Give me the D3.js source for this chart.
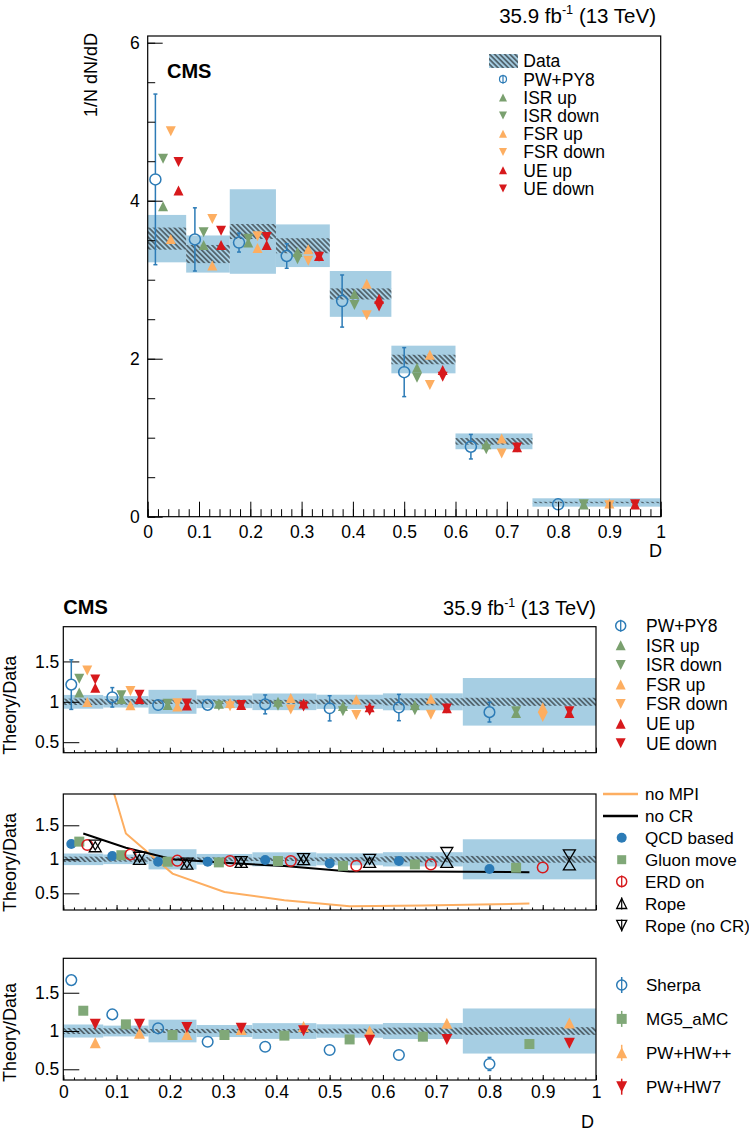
<!DOCTYPE html>
<html><head><meta charset="utf-8">
<script src="https://cdn.jsdelivr.net/npm/d3@7"></script>
<style>
body{margin:0;background:#fff}
svg{display:block}
text{font-family:"Liberation Sans",Arial,Helvetica,sans-serif;fill:#000}
</style>
</head><body>
<svg id="c" width="749" height="1137"></svg>
<script>
// ---------------- data ----------------
const binEdges = [0, 0.075, 0.16, 0.25, 0.355, 0.475, 0.6, 0.75, 1.0];
const dataVal  = [3.52, 3.325, 3.61, 3.43, 2.82, 1.99, 0.954, 0.18];
const dataStat = [0.14, 0.115, 0.095, 0.095, 0.07, 0.06, 0.042, 0.009];
const dataTot  = [0.30, 0.235, 0.535, 0.27, 0.29, 0.175, 0.10, 0.053];

const pwpy8    = [4.27, 3.51, 3.47, 3.30, 2.73, 1.83, 0.886, 0.157];
const pwpy8Err = [1.08, 0.40, 0.12, 0.155, 0.33, 0.31, 0.155, 0.022];
const isrUp    = [3.93, 3.44, 3.47, 3.35, 2.82, 1.886, 0.916, 0.155];
const isrDown  = [4.53, 3.60, 3.52, 3.26, 2.68, 1.76, 0.853, 0.159];
const fsrUp    = [3.515, 3.18, 3.40, 3.385, 2.95, 2.05, 0.99, 0.168];
const fsrDown  = [4.88, 3.77, 3.55, 3.24, 2.55, 1.667, 0.80, 0.146];
const ueUp     = [4.13, 3.44, 3.44, 3.30, 2.76, 1.857, 0.878, 0.155];
const ueDown   = [4.49, 3.62, 3.54, 3.29, 2.66, 1.77, 0.876, 0.159];

// ratio panel 2 (Theory/Data)
const noMPI     = [3.5, 1.38, 0.79, 0.52, 0.40, 0.31, 0.32, 0.35];
const noCR      = [1.38, 1.17, 1.0, 0.95, 0.90, 0.82, 0.82, 0.81];
const qcdBased  = [1.225, 1.05, 0.965, 0.965, 0.99, 0.94, 0.975, 0.857];
const gluonMove = [1.26, 1.06, 0.965, 0.955, 0.975, 0.905, 0.925, 0.876];
const erdOn     = [1.21, 1.07, 0.98, 0.975, 0.975, 0.905, 0.925, 0.88];
const rope      = [1.185, 1.0, 0.93, 0.955, 0.995, 0.955, 0.956, 0.917];
const ropeNoCR  = [1.21, 1.03, 0.945, 0.965, 1.01, 1.0, 1.10, 1.065];

// ratio panel 3 (Theory/Data)
const sherpa    = [1.665, 1.217, 1.035, 0.86, 0.795, 0.752, 0.687, 0.57];
const sherpaErr = [0.03, 0.02, 0.02, 0.02, 0.02, 0.02, 0.03, 0.085];
const mg5amc    = [1.265, 1.087, 0.948, 0.948, 0.94, 0.89, 0.926, 0.83];
const pwhwpp    = [0.848, 0.97, 0.955, 1.02, 1.06, 1.0, 1.10, 1.105];
const pwhw7     = [1.087, 1.087, 1.045, 1.035, 1.005, 0.88, 0.89, 0.84];

// ticks
const xTicks = [0, 0.1, 0.2, 0.3, 0.4, 0.5, 0.6, 0.7, 0.8, 0.9, 1];
const xTickLabels = ["0","0.1","0.2","0.3","0.4","0.5","0.6","0.7","0.8","0.9","1"];
const topYTicks = [0, 2, 4, 6];
const topYTickLabels = ["0","2","4","6"];
const ratioYTicks = [0.5, 1, 1.5];
const ratioYTickLabels = ["0.5","1","1.5"];

// ---------------- style ----------------
const FONT = '"Liberation Sans", Arial, Helvetica, sans-serif';
const C = {band:'#a6cee3', blue:'#2c7bb6', green:'#7aa06f', sq:'#80a878', orange:'#fdae61', red:'#d7191c'};

const svg = d3.select('#c');
const defs = svg.append('defs');
defs.append('pattern').attr('id','hatch').attr('patternUnits','userSpaceOnUse')
  .attr('width',3.6).attr('height',3.6).attr('patternTransform','rotate(-45)')
  .append('line').attr('x1',1.8).attr('y1',-1).attr('x2',1.8).attr('y2',4.6)
  .attr('stroke','#111').attr('stroke-width',1.0);

const nb = binEdges.length - 1;
const bins = d3.range(nb);
const pos = (i, f) => binEdges[i] + f * (binEdges[i+1] - binEdges[i]);
const ctr = i => (binEdges[i] + binEdges[i+1]) / 2;

function triPath(up, w, h){
  return up ? `M0,${-h/2}L${w/2},${h/2}L${-w/2},${h/2}Z`
            : `M0,${h/2}L${w/2},${-h/2}L${-w/2},${-h/2}Z`;
}
function drawTris(g, pts, up, color, w, h, open){
  g.append('g').selectAll('path').data(pts).join('path')
    .attr('transform', d => `translate(${d[0]},${d[1]})`)
    .attr('d', triPath(up, w, h))
    .attr('fill', open ? 'none' : color)
    .attr('stroke', open ? color : 'none').attr('stroke-width', 1.3);
}
function drawCircles(g, pts, r, color, open){
  g.append('g').selectAll('circle').data(pts).join('circle')
    .attr('cx', d => d[0]).attr('cy', d => d[1]).attr('r', r)
    .attr('fill', open ? 'none' : color)
    .attr('stroke', open ? color : 'none').attr('stroke-width', 1.5);
}
function drawSquares(g, pts, s, color){
  g.append('g').selectAll('rect').data(pts).join('rect')
    .attr('x', d => d[0]-s/2).attr('y', d => d[1]-s/2).attr('width', s).attr('height', s)
    .attr('fill', color);
}
function drawErr(g, items, r, color){ // items: [x, yc, yhi(px), ylo(px)]
  const eg = g.append('g').attr('stroke', color).attr('stroke-width', 1.5);
  items.forEach(([x, yc, yh, yl]) => {
    if (yh < yc - r) {
      eg.append('line').attr('x1',x).attr('x2',x).attr('y1',yc-r).attr('y2',yh);
      eg.append('line').attr('x1',x-2).attr('x2',x+2).attr('y1',yh).attr('y2',yh);
    }
    if (yl > yc + r) {
      eg.append('line').attr('x1',x).attr('x2',x).attr('y1',yc+r).attr('y2',yl);
      eg.append('line').attr('x1',x-2).attr('x2',x+2).attr('y1',yl).attr('y2',yl);
    }
  });
}
function styleAxis(g, fs){
  g.attr('font-family', null).attr('font-size', null);
  g.selectAll('text').style('font-size', fs + 'px').style('font-family', FONT);
  g.select('.domain').remove();
}
function lumi(xEnd, y, fs){
  const t = svg.append('text').attr('x', xEnd).attr('y', y).attr('text-anchor','end')
    .style('font-size', fs + 'px');
  t.append('tspan').text('35.9 fb');
  t.append('tspan').attr('dy', -fs*0.42).style('font-size', (fs*0.62)+'px').text('-1');
  t.append('tspan').attr('dy', fs*0.42).text(' (13 TeV)');
}
function legendText(x, y, s, fs){
  svg.append('text').attr('x', x).attr('y', y).attr('dy','0.36em').style('font-size', fs+'px').text(s);
}

// ================= TOP PANEL =================
const TX0 = 147.7, TX1 = 660.7, TY0 = 36, TY1 = 516.7;
const xT = d3.scaleLinear().domain([0,1]).range([TX0, TX1]);
const yT = d3.scaleLinear().domain([0, 6.085]).range([TY1, TY0]);
const topG = svg.append('g');

// bands
topG.append('g').selectAll('rect').data(bins).join('rect')
  .attr('x', i => xT(binEdges[i])).attr('width', i => xT(binEdges[i+1]) - xT(binEdges[i]))
  .attr('y', i => yT(dataVal[i] + dataTot[i]))
  .attr('height', i => yT(dataVal[i] - dataTot[i]) - yT(dataVal[i] + dataTot[i]))
  .attr('fill', C.band);
topG.append('g').selectAll('rect').data(bins).join('rect')
  .attr('x', i => xT(binEdges[i])).attr('width', i => xT(binEdges[i+1]) - xT(binEdges[i]))
  .attr('y', i => yT(dataVal[i] + dataStat[i]))
  .attr('height', i => yT(dataVal[i] - dataStat[i]) - yT(dataVal[i] + dataStat[i]))
  .attr('fill', 'url(#hatch)');

// markers
const ptsT = (arr, f) => bins.map(i => [xT(pos(i, f)), yT(arr[i])]);
drawErr(topG, bins.map(i => [xT(pos(i,0.2)), yT(pwpy8[i]), yT(pwpy8[i]+pwpy8Err[i]), yT(pwpy8[i]-pwpy8Err[i])]), 5.5, C.blue);
drawCircles(topG, ptsT(pwpy8, 0.2), 5.5, C.blue, true);
drawTris(topG, ptsT(isrUp, 0.4), true, C.green, 10, 10);
drawTris(topG, ptsT(isrDown, 0.4), false, C.green, 10, 10);
drawTris(topG, ptsT(fsrUp, 0.6), true, C.orange, 10, 10);
drawTris(topG, ptsT(fsrDown, 0.6), false, C.orange, 10, 10);
drawTris(topG, ptsT(ueUp, 0.8), true, C.red, 10, 10);
drawTris(topG, ptsT(ueDown, 0.8), false, C.red, 10, 10);

// axes
const gxT = topG.append('g').attr('transform', `translate(0,${TY1})`)
  .call(d3.axisBottom(xT).tickValues(xTicks).tickSize(-15).tickSizeOuter(0).tickPadding(8.5)
    .tickFormat((d,i) => xTickLabels[i]));
styleAxis(gxT, 17.5);
topG.append('g').attr('transform', `translate(0,${TY1})`)
  .call(d3.axisBottom(xT).tickValues(d3.range(0, 1.0001, 0.02)).tickSize(-7.5).tickSizeOuter(0).tickFormat(''))
  .call(g => styleAxis(g, 10));
const gyT = topG.append('g').attr('transform', `translate(${TX0},0)`)
  .call(d3.axisLeft(yT).tickValues(topYTicks).tickSize(-15).tickSizeOuter(0).tickPadding(8)
    .tickFormat((d,i) => topYTickLabels[i]));
styleAxis(gyT, 17.5);
topG.append('g').attr('transform', `translate(${TX0},0)`)
  .call(d3.axisLeft(yT).tickValues(d3.range(0, 6.01, 0.5)).tickSize(-7.5).tickSizeOuter(0).tickFormat(''))
  .call(g => styleAxis(g, 10));
topG.append('rect').attr('x', TX0).attr('y', TY0).attr('width', TX1-TX0).attr('height', TY1-TY0)
  .attr('fill','none').attr('stroke','#000').attr('stroke-width',1.2);

// labels
svg.append('text').attr('transform','translate(97,33) rotate(-90)').attr('text-anchor','end')
  .style('font-size','18px').text('1/N dN/dD');
svg.append('text').attr('x', 662).attr('y', 557).attr('text-anchor','end').style('font-size','18px').text('D');
svg.append('text').attr('x', 167).attr('y', 78).style('font-size','20px').style('font-weight','bold').text('CMS');
lumi(656, 23, 20.5);

// top legend
{
  const mx = 503, tx = 523.3, y0 = 61, dy = 18.2, fs = 17.5;
  svg.append('rect').attr('x',489).attr('y',y0-7).attr('width',29).attr('height',14).attr('fill',C.band);
  svg.append('rect').attr('x',489).attr('y',y0-7).attr('width',29).attr('height',14).attr('fill','url(#hatch)');
  legendText(tx, y0, 'Data', fs);
  const y1 = y0 + dy;
  svg.append('line').attr('x1',mx).attr('x2',mx).attr('y1',y1-4.5).attr('y2',y1+4.5).attr('stroke',C.blue).attr('stroke-width',1.2);
  svg.append('circle').attr('cx',mx).attr('cy',y1).attr('r',3.5).attr('fill','none').attr('stroke',C.blue).attr('stroke-width',1.2);
  legendText(tx, y1, 'PW+PY8', fs);
  const items = [['ISR up',true,C.green],['ISR down',false,C.green],['FSR up',true,C.orange],
                 ['FSR down',false,C.orange],['UE up',true,C.red],['UE down',false,C.red]];
  items.forEach((it, k) => {
    const yy = y0 + dy*(k+2);
    drawTris(svg, [[mx, yy]], it[1], it[2], 8, 8);
    legendText(tx, yy, it[0], fs);
  });
}

// ================= RATIO PANELS =================
const RX0 = 63.3, RX1 = 596;
const xR = d3.scaleLinear().domain([0,1]).range([RX0, RX1]);

function ratioPanel(Y0, Y1, dom, showLabels, id){
  const y = d3.scaleLinear().domain(dom).range([Y1, Y0]);
  const g = svg.append('g');
  defs.append('clipPath').attr('id', id).append('rect')
    .attr('x', RX0).attr('y', Y0).attr('width', RX1-RX0).attr('height', Y1-Y0);
  g.append('g').selectAll('rect').data(bins).join('rect')
    .attr('x', i => xR(binEdges[i])).attr('width', i => xR(binEdges[i+1]) - xR(binEdges[i]))
    .attr('y', i => y(1 + dataTot[i]/dataVal[i]))
    .attr('height', i => y(1 - dataTot[i]/dataVal[i]) - y(1 + dataTot[i]/dataVal[i]))
    .attr('fill', C.band);
  g.append('g').selectAll('rect').data(bins).join('rect')
    .attr('x', i => xR(binEdges[i])).attr('width', i => xR(binEdges[i+1]) - xR(binEdges[i]))
    .attr('y', i => y(1 + dataStat[i]/dataVal[i]))
    .attr('height', i => y(1 - dataStat[i]/dataVal[i]) - y(1 + dataStat[i]/dataVal[i]))
    .attr('fill', 'url(#hatch)');
  const gx = g.append('g').attr('transform', `translate(0,${Y1})`)
    .call(d3.axisBottom(xR).tickValues(xTicks).tickSize(-5).tickSizeOuter(0).tickPadding(6)
      .tickFormat((d,i) => showLabels ? xTickLabels[i] : ''));
  styleAxis(gx, 17.5);
  g.append('g').attr('transform', `translate(0,${Y1})`)
    .call(d3.axisBottom(xR).tickValues(d3.range(0, 1.0001, 0.02)).tickSize(-2.5).tickSizeOuter(0).tickFormat(''))
    .call(gg => styleAxis(gg, 10));
  const gy = g.append('g').attr('transform', `translate(${RX0},0)`)
    .call(d3.axisLeft(y).tickValues(ratioYTicks).tickSize(-16).tickSizeOuter(0).tickPadding(4)
      .tickFormat((d,i) => ratioYTickLabels[i]));
  styleAxis(gy, 17.5);
  const layer = g.append('g');
  g.append('rect').attr('x', RX0).attr('y', Y0).attr('width', RX1-RX0).attr('height', Y1-Y0)
    .attr('fill','none').attr('stroke','#000').attr('stroke-width',1.2);
  svg.append('text').attr('transform', `translate(16,${Y1 + 2}) rotate(-90)`)
    .style('font-size','18px').text('Theory/Data');
  return {y, layer};
}

// ---- panel 1 ----
{
  const {y, layer} = ratioPanel(626.7, 752.7, [0.37, 1.93], false, 'clip1');
  const pr = (arr, f) => bins.map(i => [xR(pos(i, f)), y(arr[i] / dataVal[i])]);
  drawErr(layer, bins.map(i => [xR(pos(i,0.2)), y(pwpy8[i]/dataVal[i]),
    y((pwpy8[i]+pwpy8Err[i])/dataVal[i]), y((pwpy8[i]-pwpy8Err[i])/dataVal[i])]), 5.3, C.blue);
  drawCircles(layer, pr(pwpy8, 0.2), 5.3, C.blue, true);
  drawTris(layer, pr(isrUp, 0.4), true, C.green, 10, 10);
  drawTris(layer, pr(isrDown, 0.4), false, C.green, 10, 10);
  drawTris(layer, pr(fsrUp, 0.6), true, C.orange, 10, 10);
  drawTris(layer, pr(fsrDown, 0.6), false, C.orange, 10, 10);
  drawTris(layer, pr(ueUp, 0.8), true, C.red, 10, 10);
  drawTris(layer, pr(ueDown, 0.8), false, C.red, 10, 10);

  svg.append('text').attr('x', 63.3).attr('y', 614).style('font-size','20px').style('font-weight','bold').text('CMS');
  lumi(596, 615, 20);

  const mx = 620.7, tx = 646, y0 = 625.7, dy = 19.6, fs = 17.5;
  svg.append('line').attr('x1',mx).attr('x2',mx).attr('y1',y0-6).attr('y2',y0+6).attr('stroke',C.blue).attr('stroke-width',1.3);
  svg.append('circle').attr('cx',mx).attr('cy',y0).attr('r',5).attr('fill','none').attr('stroke',C.blue).attr('stroke-width',1.5);
  legendText(tx, y0, 'PW+PY8', fs);
  const items = [['ISR up',true,C.green],['ISR down',false,C.green],['FSR up',true,C.orange],
                 ['FSR down',false,C.orange],['UE up',true,C.red],['UE down',false,C.red]];
  items.forEach((it, k) => {
    const yy = y0 + dy*(k+1);
    drawTris(svg, [[mx, yy]], it[1], it[2], 10, 10);
    legendText(tx, yy, it[0], fs);
  });
}

// ---- panel 2 ----
{
  const {y, layer} = ratioPanel(794, 910, [0.255, 1.96], false, 'clip2');
  const cl = layer.append('g').attr('clip-path', 'url(#clip2)');
  const line = d3.line().x(i => xR(ctr(i)));
  cl.append('path').datum(bins).attr('d', line.y(i => y(noMPI[i])))
    .attr('fill','none').attr('stroke', C.orange).attr('stroke-width', 2);
  cl.append('path').datum(bins).attr('d', line.y(i => y(noCR[i])))
    .attr('fill','none').attr('stroke', '#000').attr('stroke-width', 2);
  const pr = (arr, f) => bins.map(i => [xR(pos(i, f)), y(arr[i])]);
  drawCircles(layer, pr(qcdBased, 0.2), 5, C.blue, false);
  drawSquares(layer, pr(gluonMove, 0.4), 10, C.sq);
  drawCircles(layer, pr(erdOn, 0.6), 5.3, C.red, true);
  drawTris(layer, pr(rope, 0.8), true, '#000', 12, 10, true);
  drawTris(layer, pr(ropeNoCR, 0.8), false, '#000', 12, 10, true);

  const mx = 621.7, tx = 645, y0 = 794, dy = 21.9, fs = 17;
  svg.append('line').attr('x1',603).attr('x2',638).attr('y1',y0).attr('y2',y0).attr('stroke',C.orange).attr('stroke-width',2.5);
  legendText(tx, y0, 'no MPI', fs);
  svg.append('line').attr('x1',603).attr('x2',638).attr('y1',y0+dy).attr('y2',y0+dy).attr('stroke','#000').attr('stroke-width',2.5);
  legendText(tx, y0+dy, 'no CR', fs);
  let yy = y0 + 2*dy;
  drawCircles(svg, [[mx, yy]], 5, C.blue, false);
  legendText(tx, yy, 'QCD based', fs);
  yy = y0 + 3*dy;
  drawSquares(svg, [[mx, yy]], 9, C.sq);
  legendText(tx, yy, 'Gluon move', fs);
  yy = y0 + 4*dy;
  svg.append('line').attr('x1',mx).attr('x2',mx).attr('y1',yy-6).attr('y2',yy+6).attr('stroke',C.red).attr('stroke-width',1.3);
  drawCircles(svg, [[mx, yy]], 5, C.red, true);
  legendText(tx, yy, 'ERD on', fs);
  yy = y0 + 5*dy;
  svg.append('line').attr('x1',mx).attr('x2',mx).attr('y1',yy-6).attr('y2',yy+6).attr('stroke','#000').attr('stroke-width',1.2);
  drawTris(svg, [[mx, yy]], true, '#000', 10, 10, true);
  legendText(tx, yy, 'Rope', fs);
  yy = y0 + 6*dy;
  svg.append('line').attr('x1',mx).attr('x2',mx).attr('y1',yy-6).attr('y2',yy+6).attr('stroke','#000').attr('stroke-width',1.2);
  drawTris(svg, [[mx, yy]], false, '#000', 10, 10, true);
  legendText(tx, yy, 'Rope (no CR)', fs);
}

// ---- panel 3 ----
{
  const {y, layer} = ratioPanel(958.3, 1080, [0.36, 1.95], true, 'clip3');
  const pr = (arr, f) => bins.map(i => [xR(pos(i, f)), y(arr[i])]);
  drawErr(layer, bins.map(i => [xR(pos(i,0.2)), y(sherpa[i]), y(sherpa[i]+sherpaErr[i]), y(sherpa[i]-sherpaErr[i])]), 5.3, C.blue);
  drawCircles(layer, pr(sherpa, 0.2), 5.3, C.blue, true);
  drawSquares(layer, pr(mg5amc, 0.5), 10, C.sq);
  drawTris(layer, pr(pwhwpp, 0.8), true, C.orange, 11, 11);
  drawTris(layer, pr(pwhw7, 0.8), false, C.red, 11, 11);

  svg.append('text').attr('x', 594).attr('y', 1128).attr('text-anchor','end').style('font-size','18px').text('D');

  const mx = 621.7, tx = 646, y0 = 985, dy = 33.9, fs = 17;
  const bar = (yy, col) => svg.append('line').attr('x1',mx).attr('x2',mx).attr('y1',yy-8).attr('y2',yy+8).attr('stroke',col).attr('stroke-width',1.5);
  bar(y0, C.blue);
  svg.append('circle').attr('cx',mx).attr('cy',y0).attr('r',5).attr('fill','#fff').attr('stroke',C.blue).attr('stroke-width',1.5);
  svg.append('line').attr('x1',mx).attr('x2',mx).attr('y1',y0-5).attr('y2',y0+5).attr('stroke',C.blue).attr('stroke-width',1.3);
  legendText(tx, y0, 'Sherpa', fs);
  let yy = y0 + dy;
  bar(yy, C.sq);
  drawSquares(svg, [[mx, yy]], 10, C.sq);
  legendText(tx, yy, 'MG5_aMC', fs);
  yy = y0 + 2*dy;
  bar(yy, C.orange);
  drawTris(svg, [[mx, yy]], true, C.orange, 11, 11);
  legendText(tx, yy, 'PW+HW++', fs);
  yy = y0 + 3*dy;
  bar(yy, C.red);
  drawTris(svg, [[mx, yy]], false, C.red, 11, 11);
  legendText(tx, yy, 'PW+HW7', fs);
}
</script>
</body></html>
